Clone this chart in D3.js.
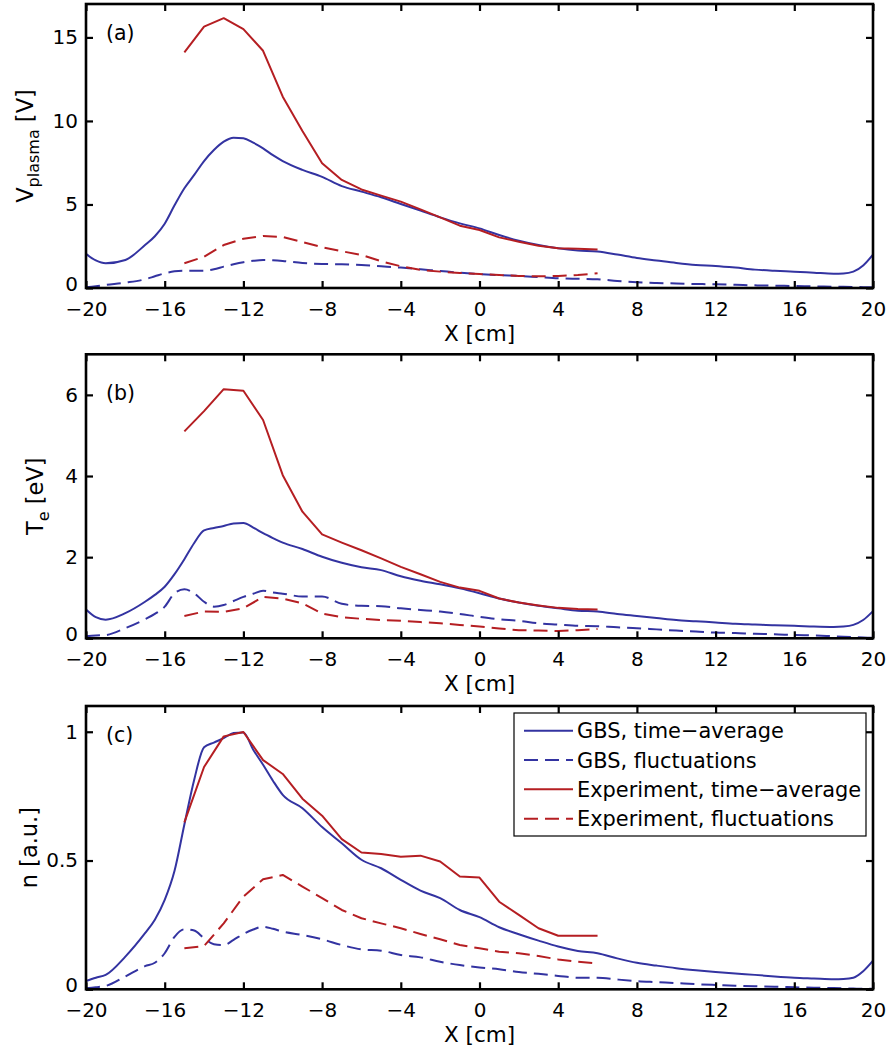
<!DOCTYPE html>
<html><head><meta charset="utf-8">
<script src="https://cdn.jsdelivr.net/npm/d3@7"></script>
<style>body{margin:0;background:#fff} svg{display:block} text{font-family:"DejaVu Sans",sans-serif;fill:#000}</style>
</head><body><svg id="c" width="890" height="1055"></svg>
<script>
// ---------- data ----------
const xGbs = [-20,-19.5,-19,-18,-17,-16.5,-16,-15.5,-15,-14.5,-14,-13.5,-13,-12.5,-12,-11.5,-11,-10.5,-10,
  -9,-8,-7,-6,-5,-4,-3,-2,-1,0,1,2,3,4,5,6,7,8,9,10,11,12,13,14,15,16,17,18,18.5,19,19.5,20];
const xExp = [-15,-14,-13,-12,-11,-10,-9,-8,-7,-6,-5,-4,-3,-2,-1,0,1,2,3,4,5,6];
const xTicks = [-20,-16,-12,-8,-4,0,4,8,12,16,20];

// (a) plasma potential [V]
const vGbsAvg = [2.04,1.65,1.48,1.68,2.57,3.1,3.85,4.95,5.97,6.77,7.6,8.26,8.76,9.0,8.96,8.7,8.36,7.95,7.6,
  7.07,6.65,6.1,5.77,5.43,5.03,4.63,4.23,3.87,3.57,3.17,2.83,2.57,2.38,2.25,2.18,2.0,1.8,1.65,1.5,1.38,1.32,1.22,1.1,1.03,0.98,0.92,0.86,0.87,0.98,1.35,2.0];
const vGbsFluct = [0.04,0.1,0.18,0.32,0.52,0.7,0.88,1.0,1.04,1.04,1.04,1.12,1.28,1.42,1.54,1.63,1.68,1.66,1.62,
  1.5,1.44,1.42,1.38,1.3,1.22,1.12,1.02,0.92,0.84,0.77,0.72,0.65,0.58,0.55,0.52,0.42,0.34,0.3,0.27,0.24,0.22,0.19,0.16,0.14,0.12,0.1,0.08,0.07,0.06,0.05,0.04];
const vExpAvg = [14.1,15.65,16.15,15.5,14.2,11.45,9.4,7.47,6.47,5.9,5.53,5.17,4.71,4.23,3.73,3.47,3.03,2.77,2.53,2.38,2.35,2.3];
const vExpFluct = [1.48,1.87,2.57,2.95,3.12,3.05,2.75,2.44,2.2,1.98,1.6,1.3,1.08,0.98,0.9,0.84,0.78,0.72,0.7,0.72,0.78,0.88];

// (b) electron temperature [eV]
const tGbsAvg = [0.71,0.52,0.46,0.62,0.9,1.07,1.27,1.58,1.95,2.35,2.66,2.72,2.77,2.83,2.84,2.73,2.59,2.47,2.36,
  2.2,2.01,1.86,1.75,1.68,1.53,1.42,1.33,1.23,1.11,0.98,0.88,0.8,0.74,0.68,0.66,0.6,0.55,0.5,0.45,0.42,0.39,0.36,0.34,0.32,0.31,0.29,0.28,0.29,0.33,0.45,0.67];
const tGbsFluct = [0.05,0.07,0.08,0.25,0.47,0.6,0.78,1.11,1.21,1.11,0.9,0.78,0.82,0.92,1.02,1.1,1.17,1.13,1.1,
  1.03,1.03,0.85,0.8,0.79,0.74,0.7,0.66,0.6,0.53,0.47,0.43,0.37,0.34,0.31,0.3,0.27,0.25,0.22,0.19,0.17,0.14,0.13,0.11,0.1,0.08,0.07,0.05,0.04,0.03,0.02,0.01];
const tExpAvg = [5.1,5.6,6.14,6.1,5.38,4.02,3.12,2.56,2.36,2.17,1.97,1.76,1.58,1.39,1.25,1.17,0.98,0.88,0.81,0.75,0.72,0.71];
const tExpFluct = [0.55,0.66,0.65,0.74,1.02,0.98,0.86,0.61,0.52,0.48,0.45,0.43,0.4,0.37,0.33,0.29,0.24,0.2,0.19,0.18,0.2,0.23];

// (c) density [a.u.]
const nGbsAvg = [0.032,0.045,0.056,0.127,0.218,0.27,0.347,0.46,0.64,0.814,0.94,0.958,0.975,0.995,0.997,0.93,0.872,0.81,0.755,
  0.703,0.63,0.567,0.503,0.47,0.425,0.383,0.354,0.308,0.28,0.241,0.214,0.189,0.166,0.149,0.14,0.12,0.103,0.092,0.082,0.074,0.067,0.061,0.056,0.05,0.045,0.042,0.039,0.04,0.045,0.07,0.111];
const nGbsFluct = [0.004,0.008,0.013,0.05,0.09,0.103,0.14,0.204,0.233,0.228,0.198,0.175,0.172,0.192,0.215,0.232,0.243,0.235,0.224,
  0.211,0.194,0.172,0.155,0.15,0.133,0.124,0.107,0.094,0.085,0.078,0.067,0.06,0.052,0.045,0.045,0.038,0.032,0.028,0.024,0.02,0.017,0.014,0.012,0.01,0.008,0.006,0.005,0.004,0.003,0.002,0.002];
const nExpAvg = [0.648,0.863,0.982,0.999,0.89,0.836,0.74,0.674,0.583,0.531,0.525,0.515,0.519,0.496,0.438,0.434,0.34,0.289,0.237,0.208,0.208,0.208];
const nExpFluct = [0.159,0.168,0.256,0.36,0.427,0.444,0.399,0.354,0.308,0.276,0.256,0.237,0.215,0.194,0.172,0.159,0.146,0.14,0.129,0.116,0.107,0.1];

const yTicksV = [0,5,10,15];
const yTicksT = [0,2,4,6];
const yTicksN = [0,0.5,1];
const legendLabels = ["GBS, time\u2212average","GBS, fluctuations","Experiment, time\u2212average","Experiment, fluctuations"];

// ---------- drawing ----------
const BLUE = "#3333a1", RED = "#b51e22";
const styles = [
  {color:BLUE, dash:null, xs:xGbs, smooth:true},
  {color:BLUE, dash:"14,7", xs:xGbs, smooth:true},
  {color:RED, dash:null, xs:xExp, smooth:false},
  {color:RED, dash:"14,7", xs:xExp, smooth:false}
];
const svg = d3.select("#c");
const x = d3.scaleLinear().domain([-20,20]).range([86,873]);

const panels = [
  {top:4, bottom:288, ymax:17, ticks:yTicksV, tag:"(a)", tagY:39.5, lab:["V","plasma"," [V]"], labX:33,
   series:[vGbsAvg,vGbsFluct,vExpAvg,vExpFluct]},
  {top:354.3, bottom:638.3, ymax:7, ticks:yTicksT, tag:"(b)", tagY:399.5, lab:["T","e"," [eV]"], labX:43,
   series:[tGbsAvg,tGbsFluct,tExpAvg,tExpFluct]},
  {top:706, bottom:989.3, ymax:1.1, ticks:yTicksN, tag:"(c)", tagY:742, lab:["n [a.u.]"], labX:37,
   series:[nGbsAvg,nGbsFluct,nExpAvg,nExpFluct], legend:true}
];

panels.forEach(p => {
  const y = d3.scaleLinear().domain([0,p.ymax]).range([p.bottom,p.top]);
  const g = svg.append("g");

  p.series.forEach((vals,i) => {
    const st = styles[i];
    const line = d3.line().x((d,j)=>x(st.xs[j])).y(d=>y(d))
      .curve(st.smooth ? d3.curveMonotoneX : d3.curveLinear);
    g.append("path").datum(vals).attr("d",line)
      .attr("fill","none").attr("stroke",st.color).attr("stroke-width",2)
      .attr("stroke-dasharray",st.dash).attr("stroke-linejoin","round");
  });

  const fmtX = d3.format("d");
  const ax = (sel) => sel.selectAll(".domain").remove();
  g.append("g").attr("transform",`translate(0,${p.bottom})`)
    .call(d3.axisBottom(x).tickValues(xTicks).tickFormat(fmtX).tickSizeInner(-7).tickSizeOuter(0).tickPadding(14))
    .call(ax);
  g.append("g").attr("transform",`translate(0,${p.top})`)
    .call(d3.axisTop(x).tickValues(xTicks).tickFormat("").tickSizeInner(-7).tickSizeOuter(0))
    .call(ax);
  const yAx = g.append("g").attr("transform",`translate(${x.range()[0]},0)`)
    .call(d3.axisLeft(y).tickValues(p.ticks).tickFormat(d3.format("~g")).tickSizeInner(-7).tickSizeOuter(0).tickPadding(8))
    .call(ax);
  // lift the zero label slightly so it clears the x tick labels below
  yAx.selectAll(".tick").filter(d => d === 0).select("text").attr("y",-4);
  g.append("g").attr("transform",`translate(${x.range()[1]},0)`)
    .call(d3.axisRight(y).tickValues(p.ticks).tickFormat("").tickSizeInner(-7).tickSizeOuter(0))
    .call(ax);
  g.selectAll(".tick line").attr("stroke","#000").attr("stroke-width",2.2);
  g.selectAll(".tick text").attr("font-family","DejaVu Sans").attr("font-size",20).attr("fill","#000");

  g.append("rect").attr("x",x.range()[0]).attr("y",p.top)
    .attr("width",x.range()[1]-x.range()[0]).attr("height",p.bottom-p.top)
    .attr("fill","none").attr("stroke","#000").attr("stroke-width",2.6);

  g.append("text").attr("x",(x.range()[0]+x.range()[1])/2).attr("y",p.bottom+53)
    .attr("text-anchor","middle").attr("font-size",21.5).text("X [cm]");

  const yl = g.append("text").attr("transform",`translate(${p.labX},${(p.top+p.bottom)/2}) rotate(-90)`)
    .attr("text-anchor","middle").attr("font-size",22.5);
  if (p.lab.length === 3) {
    yl.append("tspan").text(p.lab[0]);
    yl.append("tspan").attr("dy",6).attr("font-size",16).text(p.lab[1]);
    yl.append("tspan").attr("dy",-6).text(p.lab[2]);
  } else {
    yl.text(p.lab[0]);
  }

  g.append("text").attr("x",106).attr("y",p.tagY).attr("font-size",20.5).text(p.tag);

  if (p.legend) {
    const lg = g.append("g");
    lg.append("rect").attr("x",514).attr("y",713).attr("width",352).attr("height",123)
      .attr("fill","#fff").attr("stroke","#000").attr("stroke-width",1.2);
    const rows = [730.7,760,789.3,818.7];
    legendLabels.forEach((lab,i) => {
      const st = styles[i];
      lg.append("line").attr("x1",524).attr("x2",573).attr("y1",rows[i]).attr("y2",rows[i])
        .attr("stroke",st.color).attr("stroke-width",2).attr("stroke-dasharray",st.dash);
      lg.append("text").attr("x",577).attr("y",rows[i]).attr("dy","0.36em")
        .attr("font-size",20.9).text(lab);
    });
  }
});
</script>
</body></html>
